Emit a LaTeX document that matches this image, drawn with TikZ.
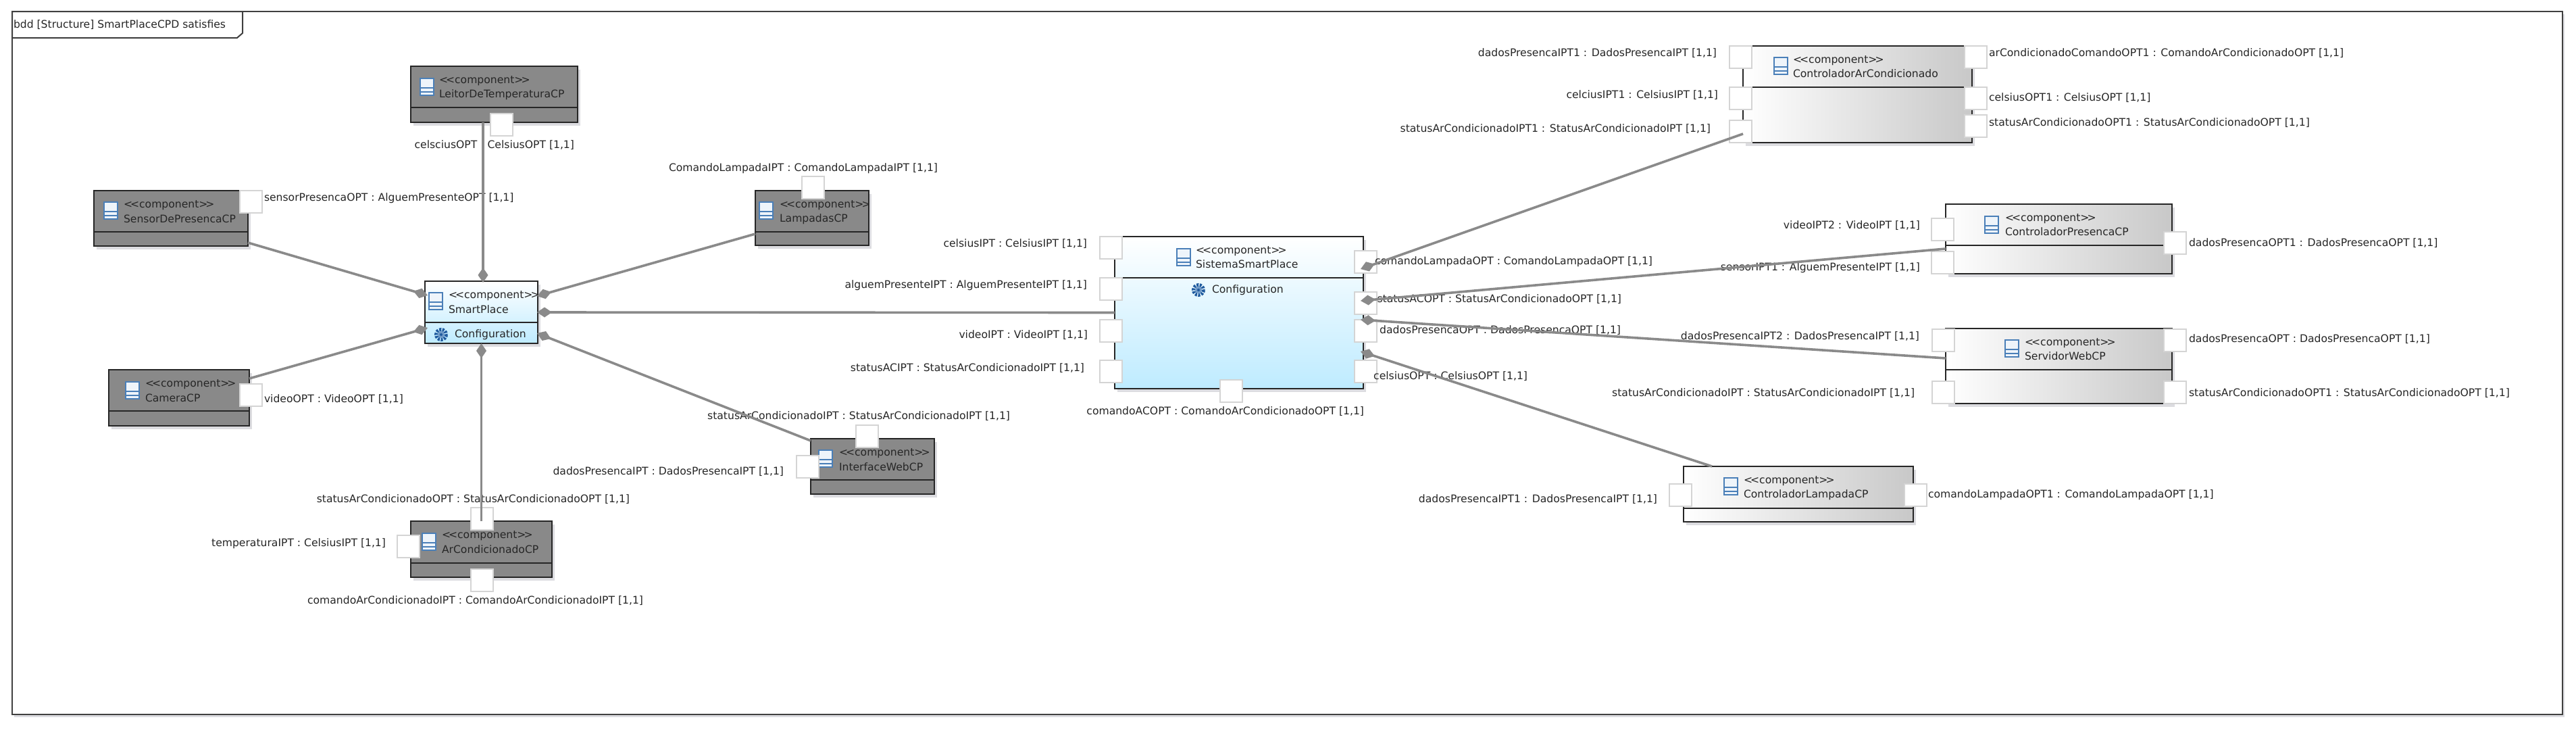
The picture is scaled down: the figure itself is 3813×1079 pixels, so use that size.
\documentclass[tikz,border=0pt]{standalone}
\usepackage{fontspec}
\setmainfont{DejaVu Sans}
\usetikzlibrary{arrows.meta, shadows}
\definecolor{linkgray}{HTML}{8A8A8A}
\definecolor{darkfill}{HTML}{898989}
\definecolor{shadowgray}{HTML}{DCDCE0}
\definecolor{portline}{HTML}{D4D4D4}
\definecolor{iconblue}{HTML}{4A7FB8}
\definecolor{iconpale}{HTML}{EEF4FA}
\definecolor{skyblue}{HTML}{BEEBFF}
\definecolor{steelgray}{HTML}{C8C8C8}
\definecolor{gearblue}{HTML}{1F5A9E}
\tikzset{
	comp/.style={rectangle, draw=black!85, line width=2.4pt, inner sep=0pt, outer sep=0pt, anchor=north west,
		drop shadow={shadow xshift=4pt, shadow yshift=-5pt, fill=shadowgray, opacity=1}},
	darkcomp/.style={comp, fill=darkfill},
	bluecomp/.style={comp, top color=white, bottom color=skyblue},
	graycomp/.style={comp, left color=white, right color=steelgray},
	divider/.style={draw=black!85, line width=2.4pt},
	portbox/.style={rectangle, draw=portline, line width=1.4pt, fill=white, inner sep=0pt, outer sep=0pt, anchor=north west},
	txt/.style={inner sep=0pt, outer sep=0pt, text=black!85, text height=11pt, text depth=3pt, font=\fontsize{15.6}{17}\selectfont},
	lblw/.style={txt, anchor=west},
	lble/.style={txt, anchor=east},
	link/.style={draw=linkgray, line width=3.6pt, -{Diamond[length=22pt, width=15pt, fill=linkgray]}, shorten >=0pt},
}
\begin{document}
\begin{tikzpicture}[x=1pt, y=-1pt]
	\newcommand{\mycomponent}[7]{
		\node[#2, minimum width={#5-#3}, minimum height={#6-#4}] (#1) at (#3,#4) {};
		\draw[divider] (#3,#7) -- (#5,#7);
	}
	\newcommand{\mytitle}[7]{
		\filldraw[draw=iconblue, fill=iconpale, line width=2pt] (#2,#3) rectangle ++(20,25);
		\draw[iconblue, line width=2pt] (#2,#3+14) -- ++(20,0);
		\draw[iconblue, line width=2pt] (#2,#3+19.5) -- ++(20,0);
		\node[lblw] (#1Stereo) at (#4,#5) {<\kern-3pt<component>\kern-3pt>};
		\node[lblw] (#1Name) at (#4,#6) {#7};
	}
	\newcommand{\mygear}[2]{
		\draw[gearblue, line width=5pt, dash pattern=on 3pt off 1.6pt] (#1,#2) circle (7.5);
		\fill[iconblue!80] (#1,#2) circle (5);
		\fill[gearblue] (#1,#2) circle (2);
	}
	\useasboundingbox (0,0) rectangle (3813,1079);
	%Outer frame
	\node[rectangle, draw=black!75, line width=2pt, fill=white, inner sep=0pt, outer sep=0pt, anchor=north west,
		minimum width=3775, minimum height=1040,
		drop shadow={shadow xshift=3pt, shadow yshift=-4pt, fill=shadowgray, opacity=1}] (frame) at (18,17) {};
	\draw[draw=black!75, line width=2pt, fill=white] (18,17) -- (359,17) -- (359,49) -- (351,56) -- (18,56) -- cycle;
	\node[lblw] (frameTitle) at (20,37) {bdd [Structure] SmartPlaceCPD satisfies};
	%Left side components
	\mycomponent{leitor}{darkcomp}{608}{98}{855}{181}{159}
	\mytitle{leitor}{622}{116}{650}{119}{140}{LeitorDeTemperaturaCP}
	\mycomponent{sensor}{darkcomp}{139}{282}{367}{364}{343}
	\mytitle{sensor}{154}{299}{183}{303}{325}{SensorDePresencaCP}
	\mycomponent{camera}{darkcomp}{161}{547}{369}{630}{608}
	\mytitle{camera}{186}{565}{215}{568}{590}{CameraCP}
	\mycomponent{arCond}{darkcomp}{608}{771}{817}{854}{833}
	\mytitle{arCond}{625}{789}{654}{792}{814}{ArCondicionadoCP}
	\mycomponent{lampadas}{darkcomp}{1118}{282}{1286}{363}{343}
	\mytitle{lampadas}{1124}{299}{1154}{303}{324}{LampadasCP}
	\mycomponent{interface}{darkcomp}{1200}{649}{1383}{731}{710}
	\mytitle{interface}{1212}{666}{1242}{670}{692}{InterfaceWebCP}
	%Blue components
	\mycomponent{smart}{bluecomp}{629}{416}{796}{508}{477}
	\mytitle{smart}{635}{433}{664}{437}{459}{SmartPlace}
	\mygear{653}{495}
	\node[lblw] (smartConf) at (673,495) {Configuration};
	\mycomponent{sistema}{bluecomp}{1650}{350}{2018}{575}{411}
	\mytitle{sistema}{1742}{368}{1770}{371}{392}{SistemaSmartPlace}
	\mygear{1774}{429}
	\node[lblw] (sistemaConf) at (1794,429) {Configuration};
	%Right side components
	\mycomponent{ctrlAr}{graycomp}{2580}{68}{2919}{211}{129}
	\mytitle{ctrlAr}{2626}{85}{2654}{89}{110}{ControladorArCondicionado}
	\mycomponent{ctrlPres}{graycomp}{2880}{302}{3215}{405}{363}
	\mytitle{ctrlPres}{2938}{320}{2968}{323}{344}{ControladorPresencaCP}
	\mycomponent{servidor}{graycomp}{2880}{486}{3215}{597}{547}
	\mytitle{servidor}{2968}{503}{2997}{507}{528}{ServidorWebCP}
	\mycomponent{ctrlLamp}{graycomp}{2492}{690}{2832}{772}{752}
	\mytitle{ctrlLamp}{2552}{707}{2581}{711}{732}{ControladorLampadaCP}
	%Small white ports
	\foreach \n/\x/\y in {p1/726/168, p2/355/282, p3/355/568, p4/697/751, p5/588/792, p6/697/842,
		p7/1267/629, p8/1179/674, p9/1187/261, p10/1628/350, p11/1628/411, p12/1628/473, p13/1628/533,
		p14/2005/371, p15/2005/432, p16/2005/473, p17/2005/533, p18/1806/562, p19/2560/68, p20/2560/129,
		p21/2560/178, p22/2908/68, p23/2908/129, p24/2908/170, p25/2859/323, p26/2859/372, p27/3203/343,
		p28/2860/487, p29/2860/564, p30/3203/487, p31/3203/564, p32/2471/716, p33/2819/716} {
		\node[portbox, minimum width=33, minimum height=33] (\n) at (\x,\y) {};
	}
	%Labels of the ports
	\node[lble] (lblCelscius) at (850,215) {celsciusOPT : CelsiusOPT [1,1]};
	\node[lblw] (lblSensor) at (391,293) {sensorPresencaOPT : AlguemPresenteOPT [1,1]};
	\node[lblw] (lblVideo) at (391,591) {videoOPT : VideoOPT [1,1]};
	\node[lble] (lblStatusOpt) at (932,739) {statusArCondicionadoOPT : StatusArCondicionadoOPT [1,1]};
	\node[lble] (lblTemp) at (571,804) {temperaturaIPT : CelsiusIPT [1,1]};
	\node[lble] (lblComando) at (952,889) {comandoArCondicionadoIPT : ComandoArCondicionadoIPT [1,1]};
	\node[lble] (lblLampada) at (1388,249) {ComandoLampadaIPT : ComandoLampadaIPT [1,1]};
	\node[lble] (lblStatusIpt) at (1495,616) {statusArCondicionadoIPT : StatusArCondicionadoIPT [1,1]};
	\node[lble] (lblDados) at (1160,698) {dadosPresencaIPT : DadosPresencaIPT [1,1]};
	\node[lble] (lblSisCelsius) at (1609,361) {celsiusIPT : CelsiusIPT [1,1]};
	\node[lble] (lblSisAlguem) at (1609,422) {alguemPresenteIPT : AlguemPresenteIPT [1,1]};
	\node[lble] (lblSisVideo) at (1610,496) {videoIPT : VideoIPT [1,1]};
	\node[lble] (lblSisStatus) at (1605,545) {statusACIPT : StatusArCondicionadoIPT [1,1]};
	\node[lble] (lblSisComando) at (2019,609) {comandoACOPT : ComandoArCondicionadoOPT [1,1]};
	\node[lble] (lblSisLampada) at (2446,387) {comandoLampadaOPT : ComandoLampadaOPT [1,1]};
	\node[lble] (lblSisStatusOpt) at (2400,443) {statusACOPT : StatusArCondicionadoOPT [1,1]};
	\node[lble] (lblSisDados) at (2399,489) {dadosPresencaOPT : DadosPresencaOPT [1,1]};
	\node[lble] (lblSisCelsiusOpt) at (2261,557) {celsiusOPT : CelsiusOPT [1,1]};
	\node[lble] (lblArDados) at (2541,79) {dadosPresencaIPT1 : DadosPresencaIPT [1,1]};
	\node[lble] (lblArCelcius) at (2543,141) {celciusIPT1 : CelsiusIPT [1,1]};
	\node[lble] (lblArStatus) at (2532,191) {statusArCondicionadoIPT1 : StatusArCondicionadoIPT [1,1]};
	\node[lblw] (lblArComando) at (2944,79) {arCondicionadoComandoOPT1 : ComandoArCondicionadoOPT [1,1]};
	\node[lblw] (lblArCelsiusOpt) at (2944,145) {celsiusOPT1 : CelsiusOPT [1,1]};
	\node[lblw] (lblArStatusOpt) at (2944,182) {statusArCondicionadoOPT1 : StatusArCondicionadoOPT [1,1]};
	\node[lble] (lblPresVideo) at (2842,334) {videoIPT2 : VideoIPT [1,1]};
	\node[lble] (lblPresSensor) at (2842,396) {sensorIPT1 : AlguemPresenteIPT [1,1]};
	\node[lblw] (lblPresDados) at (3240,360) {dadosPresencaOPT1 : DadosPresencaOPT [1,1]};
	\node[lble] (lblServDados) at (2841,498) {dadosPresencaIPT2 : DadosPresencaIPT [1,1]};
	\node[lble] (lblServStatus) at (2834,582) {statusArCondicionadoIPT : StatusArCondicionadoIPT [1,1]};
	\node[lblw] (lblServDadosOpt) at (3240,502) {dadosPresencaOPT : DadosPresencaOPT [1,1]};
	\node[lblw] (lblServStatusOpt) at (3240,582) {statusArCondicionadoOPT1 : StatusArCondicionadoOPT [1,1]};
	\node[lble] (lblLampDados) at (2453,739) {dadosPresencaIPT1 : DadosPresencaIPT [1,1]};
	\node[lblw] (lblLampComando) at (2854,732) {comandoLampadaOPT1 : ComandoLampadaOPT [1,1]};
	%Connectors towards SmartPlace
	\draw[link] ([xshift=-16.5pt]leitor.south) -- ([xshift=2.5pt, yshift=-2pt]smart.north);
	\draw[link] ([yshift=-36pt]sensor.east) -- ([xshift=4pt, yshift=25pt]smart.west);
	\draw[link] ([yshift=28.5pt]camera.east) -- ([xshift=4pt, yshift=-23pt]smart.west);
	\draw[link] ([yshift=-23.5pt]lampadas.west) -- ([xshift=-1pt, yshift=24pt]smart.east);
	\draw[link] (sistema.west) -- ([xshift=-1pt]smart.east);
	\draw[link] ([yshift=38pt]interface.west) -- ([xshift=-1pt, yshift=-31pt]smart.east);
	\draw[link] (arCond.north) -- (smart.south);
	%Connectors towards SistemaSmartPlace
	\draw[link] ([yshift=-58.5pt]ctrlAr.west) -- ([xshift=-4pt, yshift=64.5pt]sistema.east);
	\draw[link] ([yshift=-14.5pt]ctrlPres.west) -- ([xshift=-4pt, yshift=17.5pt]sistema.east);
	\draw[link] ([yshift=11.5pt]servidor.west) -- ([xshift=-4pt, yshift=-10.5pt]sistema.east);
	\draw[link] ([xshift=-128pt]ctrlLamp.north) -- ([xshift=-4pt, yshift=-57.5pt]sistema.east);
\end{tikzpicture}
\end{document}
